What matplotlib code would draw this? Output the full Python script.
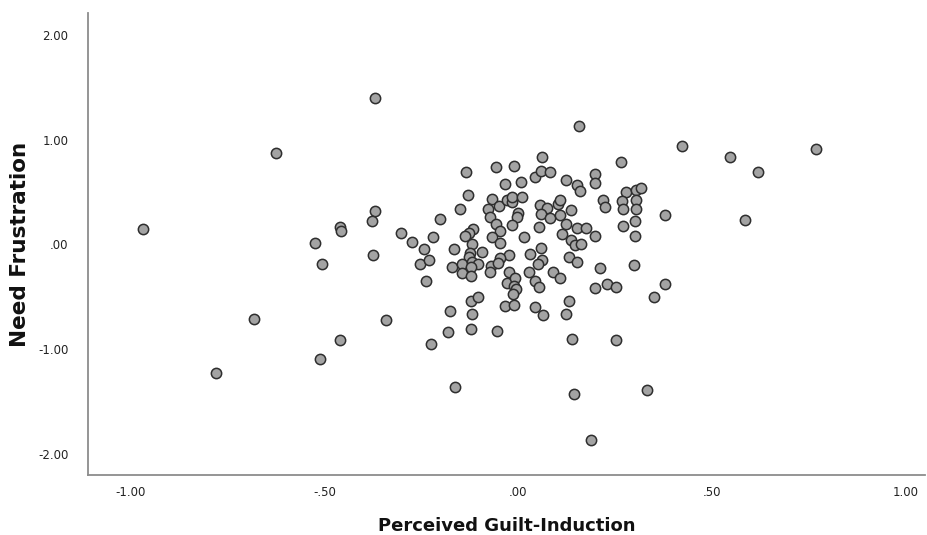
import matplotlib
matplotlib.use("Agg")
import matplotlib.pyplot as plt

guilt = [
    -0.969, -0.779, -0.681, -0.625, -0.524, -0.506, -0.512, -0.460, -0.458, -0.460,
    -0.370, -0.370, -0.378, -0.375, -0.342, -0.303, -0.275, -0.254, -0.242, -0.239,
    -0.229, -0.226, -0.221, -0.203,
    0.061, -0.134, -0.057, -0.010, 0.042, 0.059, 0.081, -0.035, 0.008, -0.129,
    -0.151, -0.068, -0.078, -0.049, -0.029, -0.015, -0.017, 0.011, -0.072, -0.057,
    -0.048, -0.068, -0.048, -0.001, -0.002, -0.015, 0.015, 0.056, 0.075, 0.102,
    0.058, 0.083, 0.054, 0.058, -0.116, -0.127, -0.137, -0.120, -0.166, -0.093,
    -0.125, -0.023, 0.030, -0.046, 0.062, -0.126, -0.171, -0.145, -0.120, -0.103,
    -0.144, -0.123, -0.122, -0.071, -0.072, -0.051, -0.023, -0.028, -0.008, -0.010,
    -0.007, -0.013, 0.029, 0.051, 0.042, 0.053, 0.089, 0.108, -0.123, -0.104,
    -0.175, -0.120, -0.033, -0.010, 0.044, 0.063, -0.182, -0.123, -0.055, 0.113,
    0.158, 0.265, 0.123, 0.199, 0.199, 0.152, 0.159, 0.278, 0.304, 0.318,
    0.269, 0.303, 0.271, 0.304, 0.218, 0.223, 0.379, 0.301, 0.271, 0.301,
    0.109, 0.136, 0.108, 0.123, 0.151, 0.174, 0.136, 0.146, 0.161, 0.198,
    0.130, 0.152, 0.212, 0.299, 0.198, 0.228, 0.253, 0.379, 0.351, 0.130,
    0.123, 0.138, 0.252,
    0.423, 0.546, 0.618, 0.768, 0.584,
    -0.162, 0.144, 0.331, 0.188,
]
frustration = [
    0.149, -1.226, -0.710, 0.874, 0.015, -0.185, -1.092, 0.168, 0.130, -0.911,
    1.400, 0.321, 0.225, -0.099, -0.720, 0.111, 0.025, -0.185, -0.042, -0.347,
    -0.147, -0.949, 0.073, 0.244,
    0.833, 0.690, 0.741, 0.753, 0.648, 0.705, 0.693, 0.579, 0.600, 0.471,
    0.337, 0.432, 0.337, 0.371, 0.429, 0.410, 0.454, 0.454, 0.266, 0.197,
    0.130, 0.070, 0.012, 0.299, 0.266, 0.187, 0.075, 0.375, 0.349, 0.388,
    0.289, 0.257, 0.171, -0.032, 0.146, 0.108, 0.085, 0.001, -0.039, -0.074,
    -0.080, -0.099, -0.093, -0.133, -0.147, -0.121, -0.217, -0.188, -0.163, -0.185,
    -0.274, -0.217, -0.300, -0.204, -0.259, -0.179, -0.259, -0.364, -0.322, -0.395,
    -0.427, -0.472, -0.262, -0.188, -0.345, -0.402, -0.264, -0.322, -0.538, -0.497,
    -0.631, -0.663, -0.586, -0.577, -0.593, -0.669, -0.837, -0.803, -0.822, 0.101,
    1.126, 0.791, 0.614, 0.671, 0.585, 0.566, 0.509, 0.505, 0.524, 0.540,
    0.416, 0.423, 0.337, 0.337, 0.423, 0.359, 0.285, 0.222, 0.175, 0.082,
    0.426, 0.327, 0.283, 0.200, 0.156, 0.156, 0.044, -0.001, 0.009, 0.079,
    -0.118, -0.166, -0.221, -0.195, -0.411, -0.376, -0.408, -0.376, -0.500, -0.541,
    -0.663, -0.901, -0.908,
    0.941, 0.833, 0.693, 0.913, 0.238,
    -1.362, -1.426, -1.388, -1.868,
]

x_ticks = [-1.0, -0.5, 0.0, 0.5, 1.0]
x_tick_labels = ["-1.00", "-.50", ".00", ".50", "1.00"]
y_ticks = [2.0, 1.0, 0.0, -1.0, -2.0]
y_tick_labels = ["2.00", "1.00", ".00", "-1.00", "-2.00"]

fig = plt.figure(figsize=(9.27, 5.35), dpi=100)
ax = fig.add_axes([0.095, 0.112, 0.903, 0.864])

ax.scatter(guilt, frustration, s=55, facecolor="#a3a3a3", edgecolor="#2e2e2e",
           linewidths=1.1, zorder=3)

ax.set_xlim(-1.11, 1.05)
ax.set_ylim(-2.2, 2.21)
ax.set_xticks(x_ticks)
ax.set_xticklabels(x_tick_labels)
ax.set_yticks(y_ticks)
ax.set_yticklabels(y_tick_labels)
ax.tick_params(axis="both", length=0, labelsize=8.5, colors="#222222")
ax.tick_params(axis="y", pad=14)
ax.tick_params(axis="x", pad=8)

for side in ("top", "right"):
    ax.spines[side].set_visible(False)
for side in ("left", "bottom"):
    ax.spines[side].set_color("#8c8c8c")
    ax.spines[side].set_linewidth(1.3)

ax.set_xlabel("Perceived Guilt-Induction", fontsize=13, fontweight="bold",
              labelpad=13, color="#111111")
ax.set_ylabel("Need Frustration", fontsize=15.5, fontweight="bold",
              labelpad=6, color="#111111")

fig.savefig("out.png", dpi=100)
